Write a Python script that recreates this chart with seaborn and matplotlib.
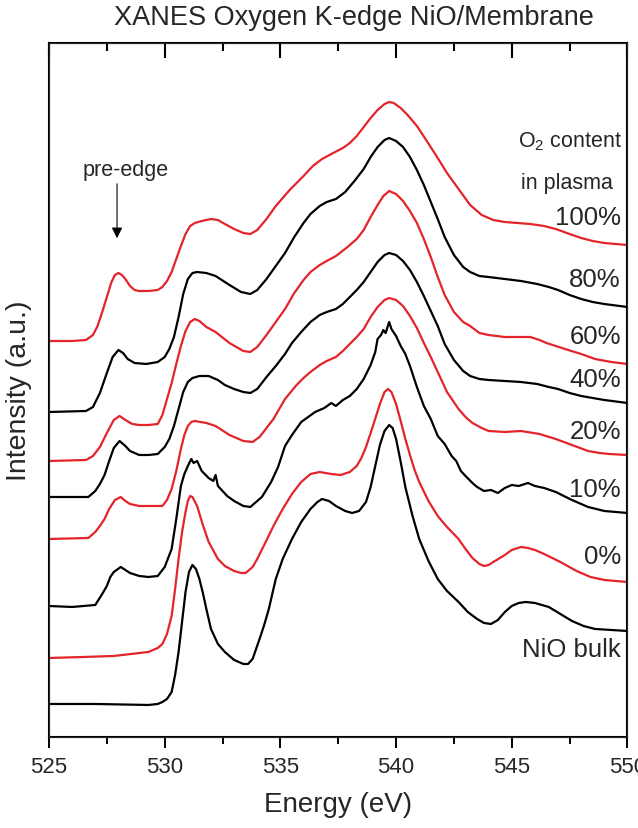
import pandas as pd
import seaborn as sns
import matplotlib.pyplot as plt
from matplotlib.ticker import MultipleLocator

# Spectra (energy in eV, stacked intensity in a.u.)
e_100 = [525.0, 526.0, 526.6, 526.9, 527.1, 527.3, 527.5, 527.7, 527.85, 528.0, 528.15, 528.3, 528.5, 528.7,
         528.9, 529.3, 529.7, 529.9, 530.1, 530.3, 530.5, 530.7, 530.9, 531.1, 531.3, 531.6, 532.0, 532.3,
         532.6, 533.0, 533.4, 533.7, 534.0, 534.4, 534.8, 535.4, 536.0, 536.4, 536.8, 537.2, 537.7, 538.0,
         538.3, 538.6, 538.9, 539.2, 539.5, 539.7, 539.9, 540.2, 540.5, 540.9, 541.3, 541.8, 542.2, 542.7,
         543.2, 543.7, 544.2, 544.7, 545.8, 546.4, 546.9, 547.5, 548.0, 548.5, 549.0, 550.0]
i_100 = [396, 396, 397, 402, 411, 425, 440, 455, 462, 464, 462, 458, 451, 447,
         446, 446, 447, 450, 456, 465, 478, 491, 503, 511, 514, 516, 518, 517,
         513, 508, 504, 503, 507, 518, 531, 547, 561, 571, 578, 583, 589, 594,
         601, 610, 619, 627, 633, 635, 634, 629, 622, 611, 597, 579, 564, 548,
         532, 522, 517, 515, 513, 511, 508, 503, 499, 496, 494, 492]

e_80 = [525.0, 526.6, 526.9, 527.2, 527.5, 527.75, 528.0, 528.2, 528.4, 528.7, 529.2, 529.7, 530.0, 530.2,
        530.4, 530.6, 530.8, 531.0, 531.2, 531.4, 531.8, 532.2, 532.8, 533.3, 533.7, 534.0, 534.4, 534.8,
        535.2, 535.6, 536.0, 536.3, 536.7, 537.0, 537.4, 537.8, 538.2, 538.6, 538.9, 539.2, 539.5, 539.7,
        540.0, 540.3, 540.6, 540.9, 541.2, 541.5, 541.8, 542.1, 542.5, 542.9, 543.2, 543.6, 544.0, 544.7,
        545.4, 546.1, 546.6, 547.0, 547.5, 548.0, 548.5, 549.0, 550.0]
i_80 = [325, 326, 330, 344, 364, 380, 387, 384, 378, 374, 373, 375, 380, 388,
        400, 420, 443, 458, 464, 465, 464, 461, 452, 445, 443, 447, 458, 471,
        484, 500, 514, 523, 531, 535, 538, 545, 556, 568, 580, 590, 597, 599,
        596, 590, 580, 567, 552, 535, 518, 500, 482, 470, 465, 461, 460, 458,
        456, 453, 450, 447, 442, 438, 435, 433, 430]

e_60 = [525.0, 526.6, 526.9, 527.2, 527.5, 527.8, 528.05, 528.3, 528.6, 528.9, 529.3, 529.7, 529.9, 530.1,
        530.3, 530.5, 530.7, 530.9, 531.1, 531.3, 531.5, 531.8, 532.2, 532.8, 533.4, 533.7, 534.0, 534.4,
        534.8, 535.2, 535.6, 536.0, 536.3, 536.7, 537.0, 537.4, 537.9, 538.3, 538.6, 538.9, 539.2, 539.45,
        539.7, 540.0, 540.3, 540.6, 540.9, 541.2, 541.5, 541.8, 542.1, 542.5, 542.9, 543.2, 543.6, 544.0,
        544.7, 545.3, 545.8, 546.2, 546.5, 547.3, 548.0, 548.6, 549.3, 550.0]
i_60 = [276, 277, 281, 290, 304, 317, 321, 317, 313, 312, 312, 313, 322, 338,
        354, 373, 391, 406, 415, 418, 416, 410, 405, 394, 386, 385, 390, 402,
        415, 428, 444, 457, 465, 472, 476, 481, 490, 498, 507, 520, 532, 541,
        546, 543, 536, 526, 514, 498, 480, 460, 442, 425, 415, 411, 404, 402,
        400, 400, 400, 397, 394, 388, 383, 378, 375, 373]

e_40 = [525.0, 526.7, 527.0, 527.2, 527.4, 527.6, 527.8, 528.05, 528.3, 528.5, 528.9, 529.3, 529.7, 530.0,
        530.2, 530.4, 530.6, 530.8, 531.0, 531.2, 531.5, 531.9, 532.3, 532.6, 533.0, 533.4, 533.7, 534.0,
        534.4, 534.8, 535.2, 535.5, 535.9, 536.3, 536.7, 537.0, 537.4, 537.7, 538.0, 538.3, 538.6, 538.9,
        539.2, 539.5, 539.7, 540.0, 540.3, 540.6, 540.9, 541.2, 541.5, 541.8, 542.1, 542.5, 542.9, 543.2,
        543.6, 544.0, 544.7, 545.4, 546.1, 546.6, 547.0, 547.5, 548.0, 548.5, 549.0, 550.0]
i_40 = [240, 240, 246, 253, 262, 276, 289, 296, 291, 286, 282, 282, 283, 290,
        298, 311, 328, 345, 355, 359, 361, 361, 357, 352, 348, 345, 344, 348,
        360, 371, 383, 394, 405, 415, 422, 425, 428, 433, 440, 447, 455, 465,
        475, 482, 484, 482, 476, 467, 455, 441, 426, 411, 393, 377, 366, 361,
        358, 357, 356, 355, 353, 350, 348, 344, 341, 339, 337, 334]

e_20 = [525.0, 526.7, 527.0, 527.2, 527.4, 527.6, 527.85, 528.1, 528.3, 528.5, 528.9, 529.9, 530.1, 530.3,
        530.5, 530.7, 530.85, 531.0, 531.15, 531.3, 531.8, 532.2, 532.8, 533.4, 533.8, 534.1, 534.4, 534.7,
        535.0, 535.2, 535.7, 536.0, 536.3, 536.7, 537.0, 537.4, 537.7, 538.0, 538.3, 538.6, 538.9, 539.2,
        539.5, 539.7, 540.0, 540.3, 540.6, 540.9, 541.2, 541.5, 541.8, 542.2, 542.7, 543.0, 543.3, 543.7,
        544.0, 544.7, 545.4, 546.2, 546.9, 547.6, 548.3, 548.8, 549.2, 550.0]
i_20 = [198, 199, 205, 211, 218, 228, 237, 240, 236, 233, 231, 231, 237, 248,
        266, 288, 302, 311, 315, 316, 314, 311, 302, 296, 295, 300, 309, 318,
        330, 338, 352, 359, 365, 372, 376, 380, 386, 393, 400, 408, 420, 430,
        437, 439, 437, 431, 421, 409, 394, 380, 365, 345, 328, 320, 314, 309,
        306, 305, 306, 303, 298, 292, 286, 284, 283, 282]

e_10 = [525.0, 526.0, 527.0, 527.3, 527.5, 527.65, 527.8, 528.1, 528.3, 528.5, 528.9, 529.3, 529.7, 530.0,
        530.3, 530.5, 530.7, 530.85, 531.0, 531.15, 531.25, 531.4, 531.6, 531.9, 532.1, 532.2, 532.3, 532.7,
        533.0, 533.4, 533.7, 534.2, 534.6, 534.9, 535.2, 535.5, 535.9, 536.2, 536.5, 536.9, 537.2, 537.4,
        537.7, 538.0, 538.3, 538.6, 538.9, 539.1, 539.2, 539.35, 539.45, 539.55, 539.7, 539.8, 540.0, 540.2,
        540.4, 540.6, 540.9, 541.2, 541.5, 541.8, 542.1, 542.4, 542.6, 542.8, 543.0, 543.3, 543.5, 543.8,
        544.1, 544.4, 544.7, 545.0, 545.3, 545.7, 546.0, 546.4, 546.9, 547.6, 548.3, 549.0, 550.0]
i_10 = [131, 130, 132, 143, 151, 160, 165, 170, 167, 164, 161, 160, 161, 170,
        188, 218, 251, 263, 271, 278, 274, 276, 266, 259, 256, 262, 251, 241,
        236, 231, 230, 240, 255, 270, 291, 302, 315, 320, 325, 329, 334, 331,
        337, 341, 348, 358, 372, 385, 398, 402, 407, 404, 415, 408, 401, 391,
        383, 371, 350, 331, 318, 301, 293, 281, 276, 266, 261, 254, 250, 246,
        247, 244, 249, 252, 251, 254, 251, 249, 245, 237, 230, 226, 224]

e_0 = [525.0, 526.5, 527.8, 529.3, 529.7, 529.9, 530.1, 530.3, 530.45, 530.6, 530.75, 530.9, 531.0, 531.1,
       531.2, 531.4, 531.65, 531.9, 532.3, 532.6, 533.0, 533.3, 533.5, 533.8, 534.0, 534.3, 534.7, 535.1,
       535.5, 535.9, 536.3, 536.7, 537.2, 537.6, 538.0, 538.3, 538.5, 538.7, 539.0, 539.3, 539.5, 539.65,
       539.8, 540.0, 540.2, 540.4, 540.6, 540.8, 541.0, 541.4, 541.8, 542.2, 542.7, 543.0, 543.3, 543.6,
       543.8, 544.0, 544.2, 544.7, 545.0, 545.4, 545.7, 546.0, 546.4, 547.1, 547.8, 548.4, 549.0, 550.0]
i_0 = [79, 80, 81, 85, 89, 93, 103, 121, 148, 178, 205, 225, 236, 241,
       240, 231, 212, 195, 178, 171, 166, 164, 164, 170, 178, 192, 211, 228,
       243, 255, 263, 265, 263, 262, 265, 271, 279, 290, 311, 333, 345, 348,
       345, 333, 316, 298, 282, 267, 255, 236, 221, 210, 198, 188, 179, 173,
       171, 172, 175, 182, 187, 190, 189, 187, 183, 175, 166, 160, 157, 155]

e_nio = [525.0, 527.0, 529.3, 529.7, 529.9, 530.1, 530.3, 530.45, 530.6, 530.75, 530.9, 531.05, 531.2, 531.35,
         531.5, 531.65, 531.8, 532.0, 532.3, 532.6, 533.0, 533.4, 533.6, 533.8, 534.1, 534.3, 534.5, 534.8,
         535.1, 535.5, 535.9, 536.3, 536.6, 536.8, 537.1, 537.4, 537.8, 538.1, 538.4, 538.7, 538.9, 539.1,
         539.3, 539.5, 539.7, 539.85, 540.0, 540.2, 540.4, 540.7, 541.0, 541.4, 541.8, 542.2, 542.7, 543.1,
         543.5, 543.8, 544.1, 544.4, 544.7, 545.0, 545.3, 545.6, 546.0, 546.6, 547.1, 547.6, 548.1, 548.6,
         549.3, 550.0]
i_nio = [33, 33, 32, 33, 35, 38, 45, 62, 85, 115, 145, 165, 172, 168,
         158, 144, 128, 108, 93, 85, 77, 73, 73, 78, 98, 112, 128, 158,
         178, 198, 215, 228, 235, 238, 236, 231, 226, 224, 226, 235, 250, 271,
         292, 306, 312, 309, 298, 275, 250, 222, 198, 176, 158, 146, 135, 125,
         118, 114, 113, 117, 125, 131, 134, 135, 134, 130, 123, 116, 111, 108,
         107, 106]

labels = ["100%", "80%", "60%", "40%", "20%", "10%", "0%", "NiO bulk"]
label_y = [520, 458, 401, 358, 306, 248, 181, 88]
energies = [e_100, e_80, e_60, e_40, e_20, e_10, e_0, e_nio]
intensities = [i_100, i_80, i_60, i_40, i_20, i_10, i_0, i_nio]

red = "#e3242b"
colors = {lab: (red if k % 2 == 0 else "black") for k, lab in enumerate(labels)}

rows = []
for lab, es, ys in zip(labels, energies, intensities):
    for e, y in zip(es, ys):
        rows.append({"Energy": e, "Intensity": y, "sample": lab})
df = pd.DataFrame(rows)

sns.set_style("ticks")
plt.rcParams["font.family"] = ["Liberation Sans", "DejaVu Sans"]
plt.rcParams["mathtext.fontset"] = "custom"
plt.rcParams["mathtext.rm"] = "Liberation Sans"

fig = plt.figure(figsize=(6.38, 8.29), dpi=100)
ax = fig.add_axes([0.0768, 0.1098, 0.9067, 0.8371])

sns.lineplot(data=df, x="Energy", y="Intensity", hue="sample", palette=colors,
             sort=False, estimator=None, legend=False, linewidth=1.6, ax=ax)

ax.set_xlim(525, 550)
ax.set_ylim(0, 694)
ax.xaxis.set_major_locator(MultipleLocator(5))
ax.xaxis.set_minor_locator(MultipleLocator(2.5))
ax.set_yticks([])
ax.tick_params(axis="x", which="major", direction="out", length=8, width=1.4,
               labelsize=16, pad=6, color="black")
ax.tick_params(axis="x", which="minor", direction="out", length=5, width=1.4, color="black")
for spine in ax.spines.values():
    spine.set_visible(True)
    spine.set_linewidth(1.5)
    spine.set_color("black")

# mirrored top axis, ticks pointing into the plot
ax_top = ax.twiny()
ax_top.set_xlim(ax.get_xlim())
ax_top.xaxis.set_major_locator(MultipleLocator(5))
ax_top.xaxis.set_minor_locator(MultipleLocator(2.5))
ax_top.tick_params(axis="x", which="both", top=True, bottom=False,
                   labeltop=False, labelbottom=False, direction="in",
                   width=1.5, color="black")
ax_top.tick_params(axis="x", which="major", length=11)
ax_top.tick_params(axis="x", which="minor", length=6)
ax_top.set_yticks([])

ax.set_xlabel("Energy (eV)", fontsize=20, labelpad=10)
ax.set_ylabel("Intensity (a.u.)", fontsize=20.5, labelpad=12)
fig.text(0.555, 0.978, "XANES Oxygen K-edge NiO/Membrane", fontsize=19.5,
         ha="center", va="center")

for lab, y in zip(labels, label_y):
    ax.text(549.72, y, lab, fontsize=18.5, ha="right", va="center")
ax.text(549.76, 596, r"O$_\mathregular{2}$ content", fontsize=15.5, ha="right", va="center")
ax.text(549.37, 555, "in plasma", fontsize=15.5, ha="right", va="center")

ax.annotate("", xy=(527.94, 496), xytext=(527.94, 556),
            arrowprops=dict(arrowstyle="-|>", color="black", lw=0.8, mutation_scale=16))
ax.text(528.3, 568, "pre-edge", fontsize=15.5, ha="center", va="center")

fig.savefig("out.png", dpi=100)
